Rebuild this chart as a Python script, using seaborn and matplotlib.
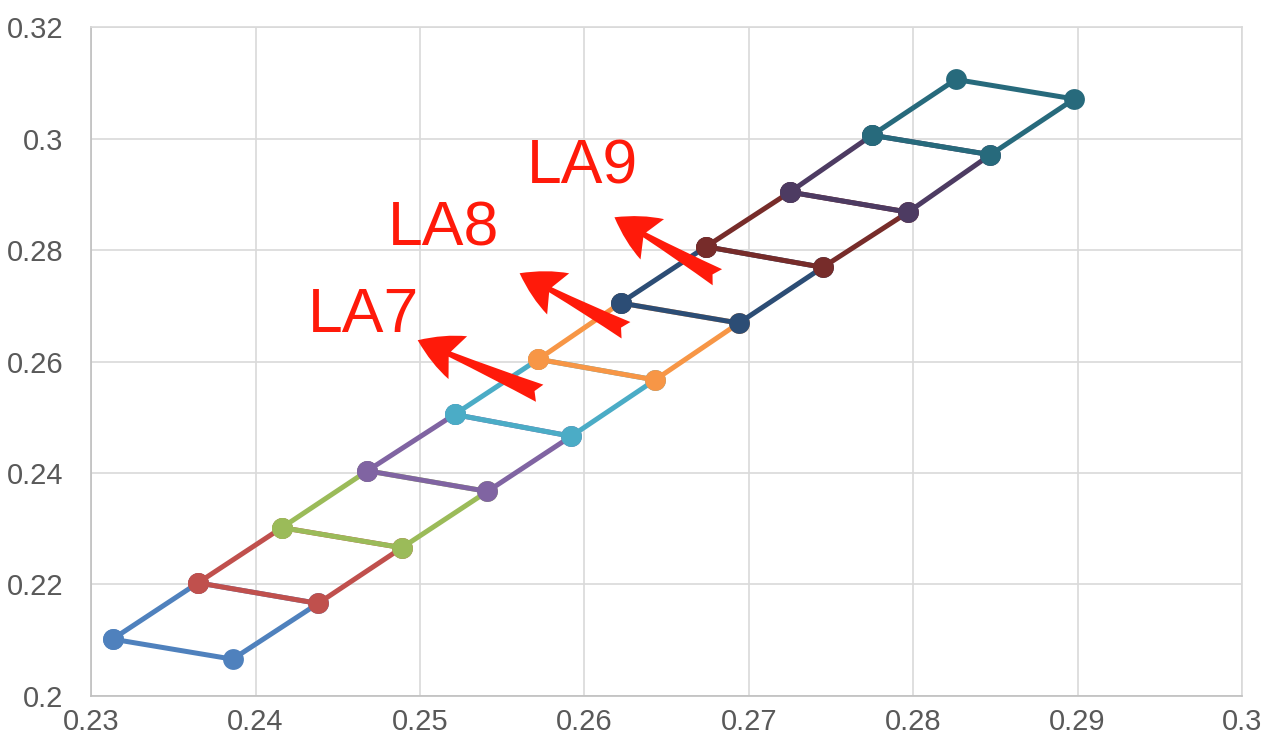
import matplotlib
matplotlib.use("Agg")
import matplotlib.pyplot as plt
import seaborn as sns
import numpy as np

# Lower-left corner points of the stacked quadrilaterals
left_x = [0.2313, 0.2365, 0.2416, 0.2468, 0.2521, 0.2572, 0.2622, 0.2674, 0.2725, 0.2775, 0.2826]
left_y = [0.2102, 0.2203, 0.2302, 0.2404, 0.2505, 0.2604, 0.2705, 0.2806, 0.2904, 0.3006, 0.3106]
# Lower-right corner points
right_x = [0.2386, 0.2438, 0.2489, 0.2541, 0.2592, 0.2643, 0.2694, 0.2745, 0.2797, 0.2847, 0.2898]
right_y = [0.2066, 0.2166, 0.2266, 0.2367, 0.2466, 0.2567, 0.2669, 0.2769, 0.2868, 0.2971, 0.3071]

series_colors = ["#4F81BD", "#C0504D", "#9BBB59", "#8064A2", "#4BACC6",
                 "#F79646", "#2C4D75", "#772C2A", "#4D3B62", "#276A7C"]

labels = ["LA7", "LA8", "LA9"]
label_x = [0.24315, 0.24802, 0.25648]
label_y = [0.26521, 0.28083, 0.29197]
arrow_tip_x = [0.24986, 0.25606, 0.26183]
arrow_tip_y = [0.26382, 0.27584, 0.28588]
arrow_tail_x = [0.25728, 0.26253, 0.26809]
arrow_tail_y = [0.25431, 0.26561, 0.27512]

x_ticks = [0.23, 0.24, 0.25, 0.26, 0.27, 0.28, 0.29, 0.30]
x_ticklabels = ["0.23", "0.24", "0.25", "0.26", "0.27", "0.28", "0.29", "0.3"]
y_ticks = [0.20, 0.22, 0.24, 0.26, 0.28, 0.30, 0.32]
y_ticklabels = ["0.2", "0.22", "0.24", "0.26", "0.28", "0.3", "0.32"]

sns.set_theme(style="white")
plt.rcParams['font.family'] = ['Liberation Sans', 'DejaVu Sans']

fig = plt.figure(figsize=(12.67, 7.52), dpi=100)
ax = fig.add_axes([0.0720, 0.0745, 0.9082, 0.8895])

for i, col in enumerate(series_colors):
    xs = [left_x[i], right_x[i], right_x[i + 1], left_x[i + 1], left_x[i]]
    ys = [left_y[i], right_y[i], right_y[i + 1], left_y[i + 1], left_y[i]]
    sns.lineplot(x=xs, y=ys, sort=False, color=col, linewidth=3.6, marker="o",
                 markersize=15, markeredgewidth=0, ax=ax, estimator=None,
                 zorder=3 + i)

for t, lx, ly, hx, hy, sx, sy in zip(labels, label_x, label_y, arrow_tip_x,
                                      arrow_tip_y, arrow_tail_x, arrow_tail_y):
    ax.text(lx, ly, t, color="#FF1A0A", fontsize=45, ha="left", va="baseline",
            zorder=20)
    ax.annotate("", xy=(hx, hy), xytext=(sx, sy),
                arrowprops=dict(arrowstyle="fancy,head_length=0.75,head_width=0.8,tail_width=0.32",
                                color="#FF1A0A", mutation_scale=42,
                                shrinkA=0, shrinkB=0, lw=0),
                zorder=21)

ax.set_xlim(0.23, 0.30)
ax.set_ylim(0.20, 0.32)
ax.set_xticks(x_ticks)
ax.set_xticklabels(x_ticklabels, family=['Liberation Sans Narrow', 'Liberation Sans'])
ax.set_yticks(y_ticks)
ax.set_yticklabels(y_ticklabels)
ax.grid(True, color="#D9D9D9", lw=1.2)
ax.set_axisbelow(True)
for s in ["left", "bottom"]:
    ax.spines[s].set_color("#BFBFBF")
    ax.spines[s].set_linewidth(1.2)
for s in ["top", "right"]:
    ax.spines[s].set_color("#D9D9D9")
    ax.spines[s].set_linewidth(1.2)
ax.tick_params(axis="both", length=0, labelsize=21, labelcolor="#595959")
ax.tick_params(axis="y", pad=20)
ax.tick_params(axis="x", pad=9)
ax.set_xlabel("")
ax.set_ylabel("")

fig.savefig("out.png", dpi=100)
